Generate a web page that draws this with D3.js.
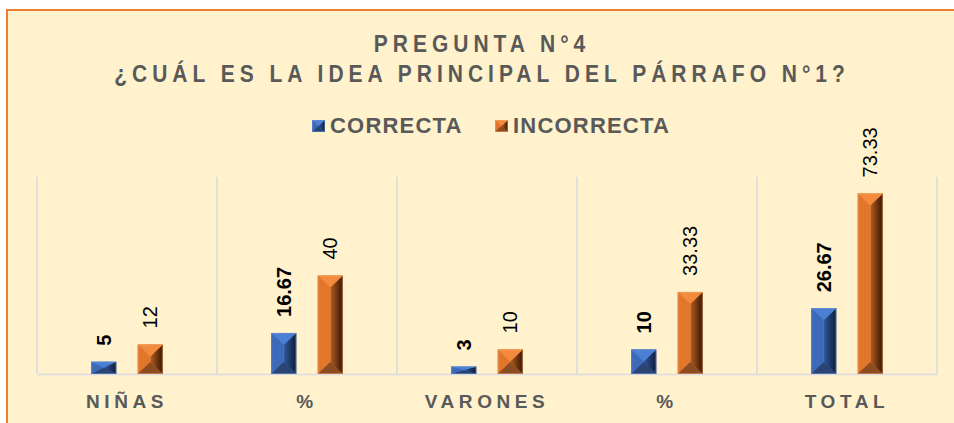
<!DOCTYPE html>
<html>
<head>
<meta charset="utf-8">
<script src="https://cdn.jsdelivr.net/npm/d3@7"></script>
<style>
	html, body {margin:0; padding:0; background:#ffffff;}
	svg {display:block; font-family:"Liberation Sans", Arial, sans-serif;}
</style>
</head>
<body>
<div id="chart"></div>
<script>
// data
var categories = ["NIÑAS", "%", "VARONES", "%", "TOTAL"];
var series_names = ["CORRECTA", "INCORRECTA"];
var correcta = [5, 16.67, 3, 10, 26.67];
var incorrecta = [12, 40, 10, 33.33, 73.33];
var value_labels = [["5", "16.67", "3", "10", "26.67"], ["12", "40", "10", "33.33", "73.33"]];

var width = 954, height = 423;
var margin = {left:37, right:17, top:177, bottom:49};

var palette = [
	{top:"#4B7FD3", left:"#3C69B8", mid:"#31589E", dark:"#0F1C38", bottom:"#2A4474", edge:"#6B93D6"},
	{top:"#F28B3D", left:"#E2762A", mid:"#B75E20", dark:"#341505", bottom:"#8C4C22", edge:"#F3A468"}
];

var svg = d3.select("#chart").append("svg")
	.attr("width", width).attr("height", height);

var defs = svg.append("defs");
palette.forEach(function(p, i){
	var g = defs.append("linearGradient").attr("id", "right_" + i)
		.attr("x1", "0").attr("x2", "1").attr("y1", "0").attr("y2", "0");
	g.append("stop").attr("offset", "0%").attr("stop-color", p.mid);
	g.append("stop").attr("offset", "100%").attr("stop-color", p.dark);
});

// chart area with orange border, runs past the right/bottom edge
svg.append("rect")
	.attr("x", 7).attr("y", 10).attr("width", 980).attr("height", 440)
	.attr("fill", "#FFF2CC").attr("stroke", "#ED7D31").attr("stroke-width", 2);

// titles (glyphs look a bit stretched in height in the original)
var title = svg.append("text")
	.attr("text-anchor", "middle").attr("fill", "#595959")
	.attr("transform", "translate(482,0) scale(1,1.1)")
	.style("font-weight", "bold").style("font-size", "21px").style("letter-spacing", "5px");
title.append("tspan").attr("x", 0).attr("y", 52 / 1.1).text("PREGUNTA N°4");
title.append("tspan").attr("x", 0).attr("y", 82 / 1.1).text("¿CUÁL ES LA IDEA PRINCIPAL DEL PÁRRAFO N°1?");

var x = d3.scaleBand()
	.domain(d3.range(categories.length))
	.range([margin.left, width - margin.right]);

var x_inner = d3.scaleBand()
	.domain([0, 1])
	.range([0, x.bandwidth()])
	.paddingInner(0.462).paddingOuter(1.166);

var y = d3.scaleLinear()
	.domain([0, 80])
	.range([height - margin.bottom, margin.top]);

var base_y = y(0);

// vertical gridlines between categories
var grid_pos = d3.range(categories.length + 1).map(function(i){
	return i < categories.length ? x(i) : x(i - 1) + x.bandwidth();
});
svg.append("g").selectAll("line")
	.data(grid_pos).enter().append("line")
	.attr("x1", function(d){return d;}).attr("x2", function(d){return d;})
	.attr("y1", y(80)).attr("y2", base_y)
	.attr("stroke", "#D9DAE2").attr("stroke-width", 1.5);

// category axis
var x_axis = d3.axisBottom(x)
	.tickSize(0).tickPadding(0)
	.tickFormat(function(i){return categories[i];});
var axis_g = svg.append("g")
	.attr("transform", "translate(0," + base_y + ")")
	.call(x_axis);
axis_g.select(".domain").attr("stroke", "#D9DAE2").attr("stroke-width", 1.5);
axis_g.selectAll("text")
	.attr("y", 34).attr("dy", 0)
	.attr("fill", "#595959")
	.style("font-family", "\"Liberation Sans\", Arial, sans-serif")
	.style("font-size", "19px").style("font-weight", "bold")
	.style("letter-spacing", "4.6px");

// draws one bevelled box, like the excel "3D" bar
function bevel_box(g, x0, y0, w, h, p, i){
	var x1 = x0 + w, y1 = y0 + h, xc = x0 + w / 2;
	var d = Math.min(w / 2, h / 2, 12);
	g.append("rect").attr("x", x0).attr("y", y0).attr("width", w).attr("height", h)
		.attr("fill", p.left);
	g.append("polygon")
		.attr("points", [[x0, y0], [xc, y0 + d], [xc, y1 - d], [x0, y1]].join(" "))
		.attr("fill", p.left);
	g.append("polygon")
		.attr("points", [[x1, y0], [xc, y0 + d], [xc, y1 - d], [x1, y1]].join(" "))
		.attr("fill", "url(#right_" + i + ")");
	g.append("polygon")
		.attr("points", [[x0, y0], [x1, y0], [xc, y0 + d]].join(" "))
		.attr("fill", p.top);
	g.append("polygon")
		.attr("points", [[x0, y1], [x1, y1], [xc, y1 - d]].join(" "))
		.attr("fill", p.bottom);
	g.append("line").attr("x1", xc).attr("x2", xc).attr("y1", y0 + d).attr("y2", y1 - d)
		.attr("stroke", p.edge).attr("stroke-opacity", 0.35).attr("stroke-width", 1);
	g.append("rect").attr("x", x0 + 0.5).attr("y", y0 + 0.5).attr("width", w - 1).attr("height", h - 1)
		.attr("fill", "none").attr("stroke", p.edge).attr("stroke-opacity", 0.5).attr("stroke-width", 1);
}

var all_series = [correcta, incorrecta];
var bars = svg.append("g");
all_series.forEach(function(values, s){
	values.forEach(function(v, i){
		var bx = x(i) + x_inner(s);
		var by = y(v);
		bevel_box(bars.append("g"), bx, by, x_inner.bandwidth(), base_y - by, palette[s], s);
	});
});

// rotated value labels, first series in bold
all_series.forEach(function(values, s){
	svg.append("g").selectAll("text")
		.data(values).enter().append("text")
		.attr("transform", function(v, i){
			var cx = x(i) + x_inner(s) + x_inner.bandwidth() / 2;
			return "translate(" + cx + "," + (y(v) - 16) + ") rotate(-90)";
		})
		.attr("dy", "0.36em")
		.attr("fill", "#000000")
		.style("font-size", "20px")
		.style("font-weight", s == 0 ? "bold" : "normal")
		.text(function(v, i){return value_labels[s][i];});
});

// legend
var legend_items = [{x:312, text_x:330}, {x:495, text_x:513}];
series_names.forEach(function(name, s){
	var lg = svg.append("g");
	bevel_box(lg, legend_items[s].x, 120, 13, 12, palette[s], s);
	lg.append("text")
		.attr("x", legend_items[s].text_x).attr("y", 133)
		.attr("fill", "#595959")
		.style("font-size", "22px").style("font-weight", "bold").style("letter-spacing", "1.2px")
		.text(name);
});
</script>
</body>
</html>
